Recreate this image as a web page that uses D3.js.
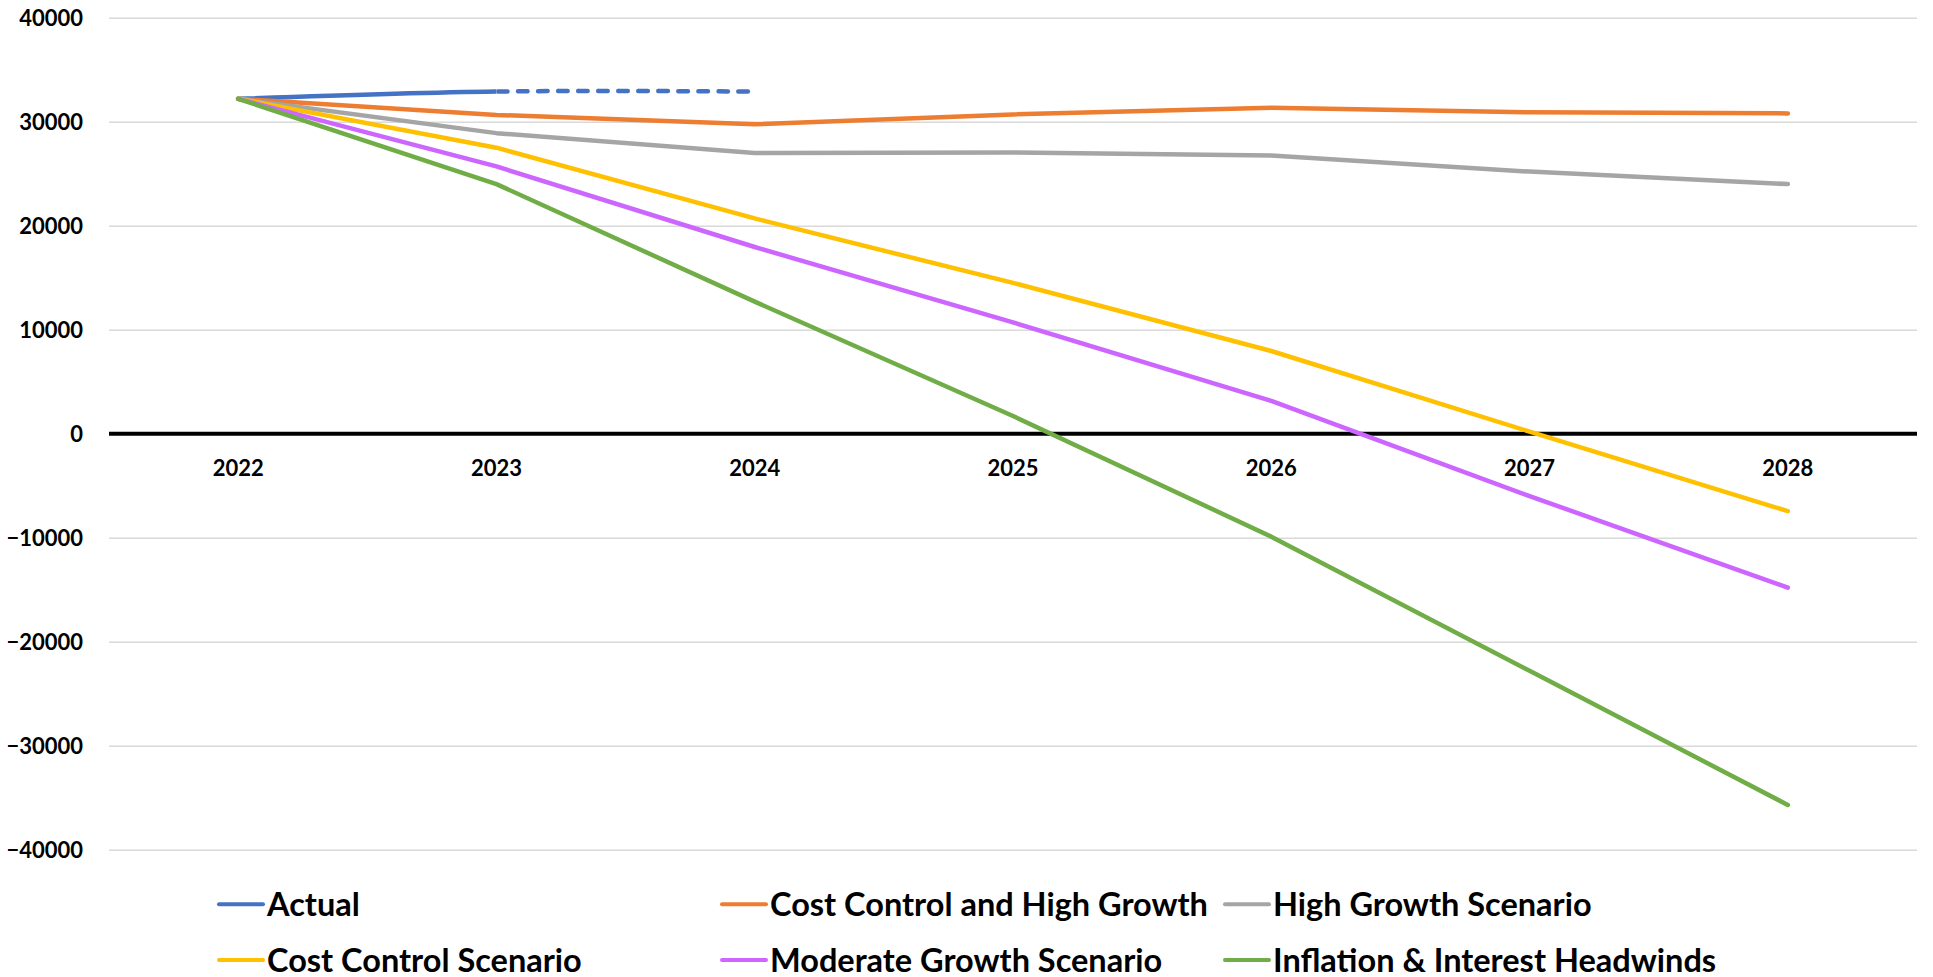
<!DOCTYPE html>
<html>
<head>
<meta charset="utf-8">
<script src="https://cdn.jsdelivr.net/npm/d3@7"></script>
<style>
  html, body { margin: 0; padding: 0; background: #ffffff; }
  svg text { font-family: Lato, "Open Sans", sans-serif; font-weight: bold; fill: #000; }
</style>
</head>
<body>
<svg id="chart" width="1933" height="977"></svg>
<script>
// ---- data ----
const years = ["2022", "2023", "2024", "2025", "2026", "2027", "2028"];
const yTicks = [40000, 30000, 20000, 10000, 0, -10000, -20000, -30000, -40000];

const actual = [32200, 32900, 32900];            // 2024 point = dashed projection
const costControlHighGrowth = [32200, 30650, 29750, 30700, 31350, 30900, 30800];
const highGrowth = [32200, 28900, 27000, 27050, 26750, 25200, 24000];
const costControl = [32200, 27500, 20700, 14500, 7950, 200, -7450];
const moderateGrowth = [32200, 25700, 17950, 10700, 3150, -6000, -14800];
const inflationHeadwinds = [32200, 24000, 12700, 1700, -9900, -22800, -35700];

const seriesNames = ["Actual", "Cost Control and High Growth", "High Growth Scenario",
  "Cost Control Scenario", "Moderate Growth Scenario", "Inflation & Interest Headwinds"];
const seriesColors = ["#4472C4", "#ED7D31", "#A5A5A5", "#FFC000", "#CC66FF", "#70AD47"];

// ---- layout ----
const svg = d3.select("#chart");
const plot = { left: 109, right: 1917, top: 17.7, bottom: 849.7 };

const x = d3.scaleBand().domain(years).range([plot.left, plot.right]).padding(0);
const cx = d => x(d) + x.bandwidth() / 2;
const y = d3.scaleLinear().domain([-40000, 40000]).range([plot.bottom, plot.top]);

// gridlines
const yAxis = d3.axisLeft(y).tickValues(yTicks).tickSize(-(plot.right - plot.left)).tickFormat(d3.format("d"));
const gY = svg.append("g").attr("transform", `translate(${plot.left},0)`).call(yAxis);
gY.select(".domain").remove();
gY.selectAll(".tick line").attr("stroke", "#d9d9d9").attr("stroke-width", 1.5);
gY.selectAll(".tick text").attr("x", -26).attr("dy", "0.36em")
  .style("font-size", "22px").attr("text-anchor", "end");

// zero axis line
svg.append("line")
  .attr("x1", plot.left).attr("x2", plot.right)
  .attr("y1", y(0)).attr("y2", y(0))
  .attr("stroke", "#000").attr("stroke-width", 4);

// x labels (below the zero line)
const xAxis = d3.axisBottom(x).tickSize(0).tickPadding(0);
const gX = svg.append("g").attr("transform", `translate(0,${y(0)})`).call(xAxis);
gX.select(".domain").remove();
gX.selectAll(".tick text").attr("y", 0).attr("dy", 42.5)
  .style("font-size", "22px").attr("text-anchor", "middle");

// lines
const smoothGen = d3.line().x((d, i) => cx(years[i])).y(d => y(d)).curve(d3.curveCardinal.tension(0));
const lineGen = d3.line().x((d, i) => cx(years[i])).y(d => y(d));

// Actual: solid up to 2023, dashed 2023-2024
const defs = svg.append("defs");
defs.append("clipPath").attr("id", "clipSolid").append("rect")
  .attr("x", 0).attr("y", 0).attr("width", cx("2023")).attr("height", 977);
defs.append("clipPath").attr("id", "clipDash").append("rect")
  .attr("x", cx("2023")).attr("y", 0).attr("width", 1933).attr("height", 977);

svg.append("path").datum(actual).attr("d", smoothGen)
  .attr("fill", "none").attr("stroke", seriesColors[0]).attr("stroke-width", 4.5)
  .attr("stroke-linecap", "round").attr("clip-path", "url(#clipSolid)");
svg.append("path").datum(actual).attr("d", smoothGen)
  .attr("fill", "none").attr("stroke", seriesColors[0]).attr("stroke-width", 4.5)
  .attr("stroke-linecap", "round").attr("stroke-dasharray", "0,0.01,9.5,10.5")
  .attr("clip-path", "url(#clipDash)");

const others = [costControlHighGrowth, highGrowth, costControl, moderateGrowth, inflationHeadwinds];
others.forEach((vals, k) => {
  svg.append("path").datum(vals).attr("d", lineGen)
    .attr("fill", "none").attr("stroke", seriesColors[k + 1]).attr("stroke-width", 4.5)
    .attr("stroke-linecap", "round").attr("stroke-linejoin", "round");
});

// legend
const legendCols = [219, 722, 1225];
const legendRows = [904.3, 960];
const legend = svg.append("g");
seriesNames.forEach((name, i) => {
  const lx = legendCols[i % 3], ly = legendRows[Math.floor(i / 3)];
  legend.append("line").attr("x1", lx).attr("x2", lx + 44).attr("y1", ly).attr("y2", ly)
    .attr("stroke", seriesColors[i]).attr("stroke-width", 4).attr("stroke-linecap", "round");
  legend.append("text").attr("x", lx + 48).attr("y", ly + 11.5)
    .style("font-size", "32.5px").text(name);
});
</script>
</body>
</html>
